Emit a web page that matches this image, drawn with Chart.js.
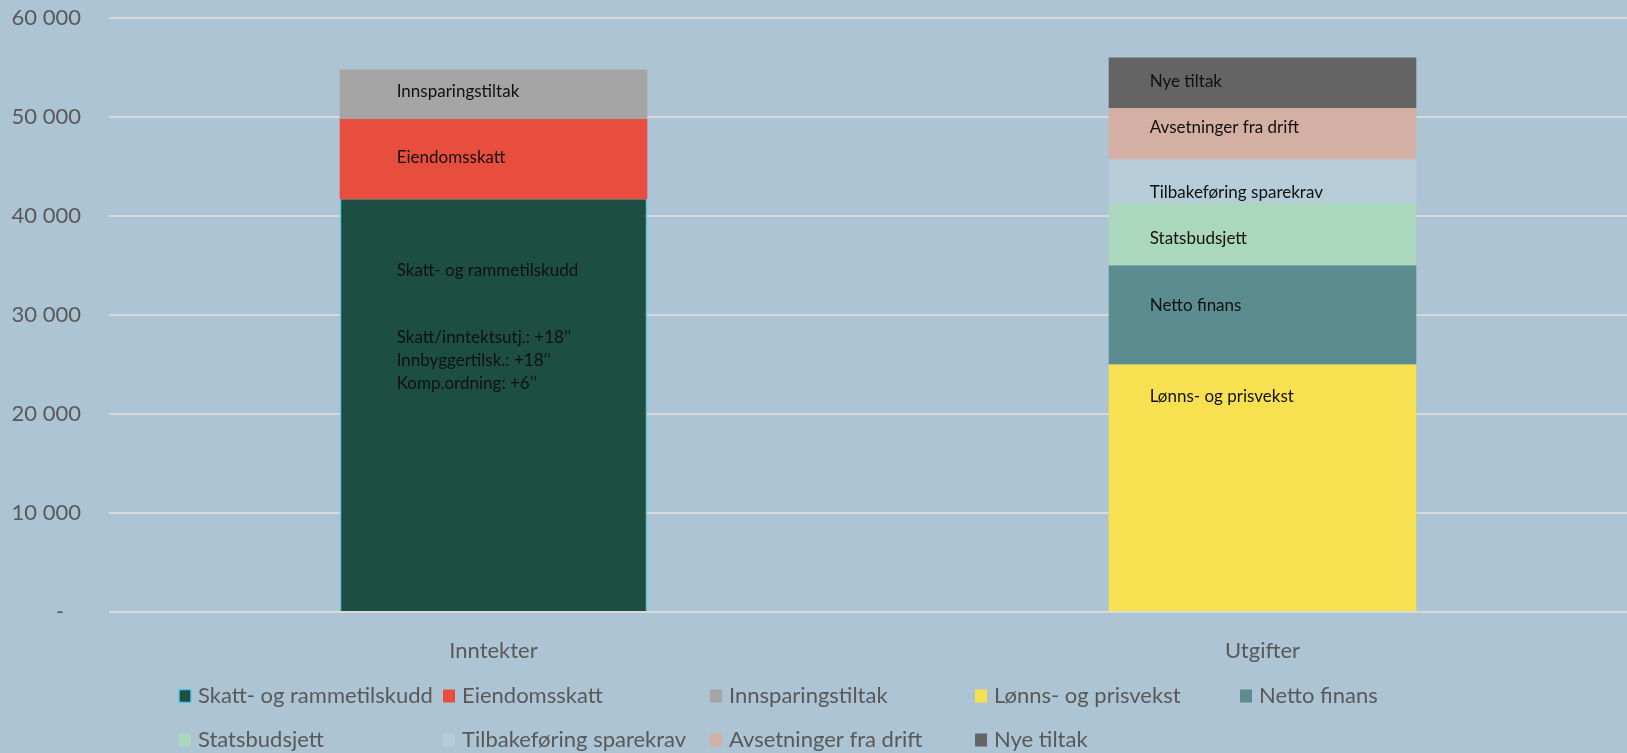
<!DOCTYPE html>
<html>
<head>
<meta charset="utf-8">
<script src="https://cdn.jsdelivr.net/npm/chart.js@4"></script>
<style>
    html, body { margin: 0; padding: 0; overflow: hidden; background: #ACC4D3; }
    #wrap { position: relative; width: 1647px; height: 753px; }
</style>
</head>
<body>
<div id="wrap"><canvas id="chart"></canvas></div>
<script>
// categories
const categories = ['Inntekter', 'Utgifter'];

// series (NOK 1000), one value per category
const skattRamme    = [41700, null];
const eiendomsskatt = [8100, null];
const innsparing    = [5000, null];
const lonnsPris     = [null, 25000];
const nettoFinans   = [null, 10000];
const statsbudsjett = [null, 6300];
const tilbakeforing = [null, 4400];
const avsetninger   = [null, 5200];
const nyeTiltak     = [null, 5100];

const seriesNames = [
    'Skatt- og rammetilskudd', 'Eiendomsskatt', 'Innsparingstiltak',
    'Lønns- og prisvekst', 'Netto finans', 'Statsbudsjett',
    'Tilbakeføring sparekrav', 'Avsetninger fra drift', 'Nye tiltak'
];
const seriesValues = [
    skattRamme, eiendomsskatt, innsparing, lonnsPris, nettoFinans,
    statsbudsjett, tilbakeforing, avsetninger, nyeTiltak
];

// extra note lines under the first segment label
const skattNotes = ['Skatt/inntektsutj.: +18’’', 'Innbyggertilsk.: +18’’', 'Komp.ordning: +6’’'];

const yTicks = [0, 10000, 20000, 30000, 40000, 50000, 60000];

const colors = ['#1C4F41', '#E84E3D', '#A5A5A5', '#F8E150', '#5B8C90',
                '#ABD8BC', '#B6CDD9', '#D3AFA4', '#646464'];

// label placement (px below segment top) and left inset per bar
const labelOffsets = [71, 39, 22, 32, 40, 35, 33, 19, 24];
const noteOffsets = [138, 161, 184];
const labelInset = [57, 41];

const labelFont = '17px Lato';
const axisColor = '#595959';

const segmentLabels = {
    id: 'segmentLabels',
    afterDatasetsDraw(chart) {
        const ctx = chart.ctx;
        ctx.save();
        ctx.font = labelFont;
        ctx.fillStyle = '#111111';
        ctx.textBaseline = 'middle';
        ctx.textAlign = 'left';
        chart.data.datasets.forEach((ds, i) => {
            const meta = chart.getDatasetMeta(i);
            meta.data.forEach((bar, j) => {
                if (ds.data[j] == null) return;
                const left = bar.x - bar.width / 2 + labelInset[j];
                ctx.fillText(ds.label, left, bar.y + labelOffsets[i]);
                if (i === 0) {
                    skattNotes.forEach((line, k) => {
                        ctx.fillText(line, left, bar.y + noteOffsets[k]);
                    });
                }
            });
        });
        ctx.restore();
    }
};

// Excel-like legend with fixed columns
const legendCols = [179, 443, 710, 975, 1240];
const legendRows = [696, 740];

const gridLegend = {
    id: 'gridLegend',
    afterDraw(chart) {
        const ctx = chart.ctx;
        ctx.save();
        ctx.font = '22px Lato';
        ctx.textBaseline = 'middle';
        ctx.textAlign = 'left';
        chart.data.datasets.forEach((ds, i) => {
            const x = legendCols[i % 5];
            const y = legendRows[Math.floor(i / 5)];
            ctx.fillStyle = ds.backgroundColor;
            ctx.fillRect(x, y - 6.5, 12, 13);
            if (i === 0) {
                ctx.strokeStyle = '#5BC8E6';
                ctx.lineWidth = 1.5;
                ctx.strokeRect(x, y - 6.5, 12, 13);
            }
            ctx.fillStyle = axisColor;
            ctx.fillText(ds.label, x + 19, y);
        });
        ctx.restore();
    }
};

const datasets = seriesNames.map((name, i) => ({
    label: name,
    data: seriesValues[i],
    backgroundColor: colors[i],
    borderColor: '#5BC8E6',
    borderWidth: i === 0 ? { left: 1.5, right: 1.5, top: 0, bottom: 0 } : 0,
    barPercentage: 0.4,
    categoryPercentage: 1.0
}));

new Chart(document.getElementById('chart'), {
    type: 'bar',
    data: { labels: categories, datasets: datasets },
    plugins: [segmentLabels, gridLegend],
    options: {
        responsive: true,
        maintainAspectRatio: false,
        animation: false,
        layout: { padding: { top: 18, bottom: 81, left: 0, right: 0 } },
        plugins: {
            legend: { display: false },
            tooltip: { enabled: false }
        },
        scales: {
            x: {
                stacked: true,
                grid: { display: false },
                border: { display: false },
                ticks: { color: axisColor, font: { family: 'Lato', size: 22 }, padding: 18 },
                afterFit: s => { s.height = 60; }
            },
            y: {
                stacked: true,
                min: 0,
                max: 60000,
                afterBuildTicks: s => { s.ticks = yTicks.map(v => ({ value: v })); },
                grid: { color: '#D9D9D9', lineWidth: 2, drawTicks: false },
                border: { display: false },
                ticks: {
                    color: axisColor,
                    font: { family: 'Lato', size: 22 },
                    padding: 28,
                    callback: v => v === 0 ? '-   ' : v.toLocaleString('nb-NO').replace(/\s/g, ' ')
                },
                // keep the tick padding from pushing the plot area down
                afterFit: s => { s.width = 109; s.paddingTop = 0; s.paddingBottom = 0; }
            }
        }
    }
});
</script>
</body>
</html>
